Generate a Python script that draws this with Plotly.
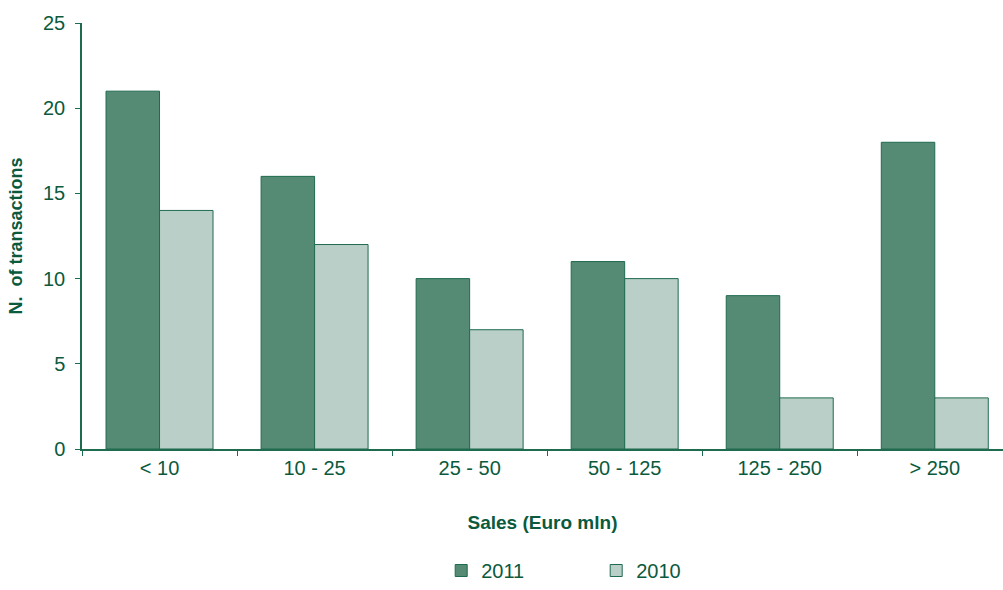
import plotly.graph_objects as go

categories = ["< 10", "10 - 25", "25 - 50", "50 - 125", "125 - 250", "> 250"]
values_2011 = [21, 16, 10, 11, 9, 18]
values_2010 = [14, 12, 7, 10, 3, 3]

TXT = "#0b5a3d"
LINE = "#1f6b4f"

fig = go.Figure()
fig.add_trace(go.Bar(name="2011", x=categories, y=values_2011,
                     marker=dict(color="#558a74", line=dict(color=LINE, width=1))))
fig.add_trace(go.Bar(name="2010", x=categories, y=values_2010,
                     marker=dict(color="#b9cfc7", line=dict(color=LINE, width=1))))

fig.update_layout(
    width=1003, height=590,
    margin=dict(l=82, r=0, t=23, b=141),
    plot_bgcolor="white", paper_bgcolor="white",
    barmode="group", bargap=0.31, bargroupgap=0,
    font=dict(family="Liberation Sans, Arial, sans-serif", color=TXT, size=20),
    xaxis=dict(
        range=[-0.5, 5.44], showline=True, linecolor=LINE, linewidth=1.5,
        ticks="outside", tickson="boundaries", ticklen=5, tickcolor=LINE,
        tickfont=dict(size=20, color=TXT),
        title=dict(text="<b>Sales (Euro mln)</b>", font=dict(size=19, color=TXT), standoff=38),
        showgrid=False,
    ),
    yaxis=dict(
        range=[0, 25], dtick=5, showline=True, linecolor=LINE, linewidth=1.5,
        ticks="outside", ticklen=5, tickcolor=LINE, showgrid=False, zeroline=False,
        tickfont=dict(size=20, color=TXT), ticklabelstandoff=6,
        title=dict(text="<b>N.  of transactions</b>", font=dict(size=18, color=TXT), standoff=16),
    ),
    legend=dict(orientation="h", x=0.39, xanchor="left", y=-0.331, yanchor="bottom",
                font=dict(size=20, color=TXT), entrywidth=110, entrywidthmode="pixels",
                traceorder="normal"),
)

fig.write_html("out.html")
